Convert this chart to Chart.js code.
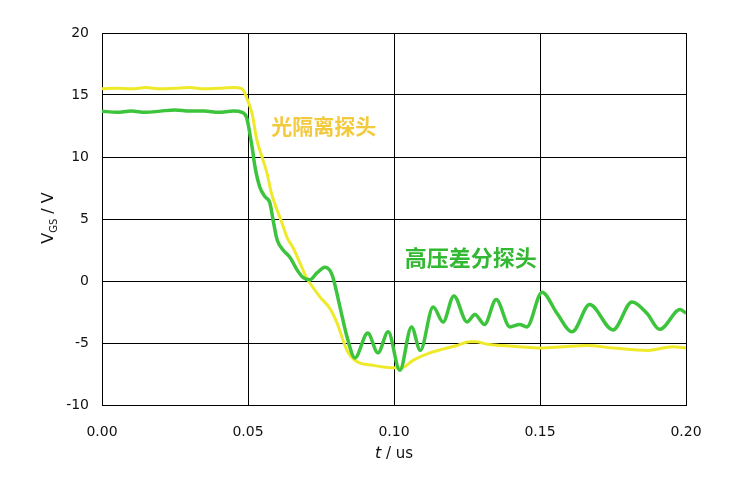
<!DOCTYPE html>
<html>
<head>
<meta charset="utf-8">
<script src="https://cdn.jsdelivr.net/npm/chart.js@4"></script>
<style>
    html, body { margin: 0; padding: 0; background: #fff; }
    #wrap { width: 734px; height: 499px; position: relative; }
</style>
</head>
<body>
<div id="wrap"><canvas id="chartVgs"></canvas></div>
<script>

// =====================================================
// Datos
// =====================================================

const tOptico = [
    0, 0.005, 0.01, 0.015, 0.02, 0.025, 0.03, 0.035, 0.04, 0.045, 0.048,
    0.0495, 0.0514, 0.053, 0.0548, 0.0565, 0.058, 0.060, 0.0616, 0.0634, 0.0654,
    0.0678, 0.070, 0.0712, 0.0747, 0.078, 0.0805, 0.0839, 0.0873, 0.0928,
    0.0997, 0.1027, 0.1065, 0.1123, 0.1216, 0.126, 0.128, 0.132,
    0.137, 0.143, 0.15, 0.158, 0.166, 0.175, 0.187, 0.1955, 0.2
];

const vOptico = [
    15.5, 15.55, 15.5, 15.6, 15.5, 15.55, 15.6, 15.5, 15.55, 15.6, 15.5,
    14.8, 13.5, 11.4, 10.0, 8.7, 7.1, 5.7, 4.7, 3.5, 2.7,
    1.45, 0.3, -0.16, -1.3, -2.2, -3.4, -5.6, -6.5, -6.8,
    -7.0, -7.0, -6.4, -5.8, -5.2, -4.9, -4.9, -5.1,
    -5.2, -5.3, -5.4, -5.3, -5.2, -5.4, -5.6, -5.3, -5.4
];

const tDiferencial = [
    0, 0.005, 0.01, 0.015, 0.02, 0.025, 0.03, 0.035, 0.04, 0.045, 0.048,
    0.0495, 0.050, 0.0514, 0.0524, 0.054, 0.0558, 0.0575, 0.0586, 0.060, 0.062,
    0.0644, 0.0668, 0.0688, 0.0712, 0.0736, 0.0764, 0.0788, 0.0815, 0.0839, 0.0866,
    0.091, 0.0945, 0.098, 0.102, 0.106, 0.109, 0.1134, 0.1168, 0.1205, 0.125,
    0.1277, 0.131, 0.135, 0.1397, 0.143, 0.1455, 0.1507, 0.1558, 0.161, 0.167,
    0.175, 0.1815, 0.1866, 0.191, 0.198, 0.2
];

const vDiferencial = [
    13.7, 13.6, 13.7, 13.6, 13.7, 13.8, 13.7, 13.7, 13.6, 13.7, 13.6,
    13.2, 12.7, 10.8, 9.2, 7.6, 6.8, 6.3, 4.9, 3.3, 2.5,
    1.9, 0.9, 0.3, 0.1, 0.65, 1.1, 0.5, -2.1, -4.5, -6.2,
    -4.2, -5.8, -4.1, -7.2, -3.7, -5.6, -2.1, -3.3, -1.2, -3.3,
    -2.7, -3.5, -1.5, -3.7, -3.5, -3.7, -0.9, -2.6, -4.1, -1.9,
    -3.95, -1.7, -2.6, -3.9, -2.3, -2.6
];

const xTicks = [0, 0.05, 0.10, 0.15, 0.20];
const yTicks = [-10, -5, 0, 5, 10, 15, 20];

const etiquetaOptico = "光隔离探头";
const etiquetaDiferencial = "高压差分探头";


// =====================================================
// Colores
// =====================================================

const colores = {
    amarillo: "#eeea2a",
    verde: "#3cc43c",
    textoAmarillo: "#f3ca3e",
    textoVerde: "#33b833",
    eje: "#000000",
    texto: "#111111"
};

const fuente = "'DejaVu Sans', Verdana, sans-serif";


// =====================================================
// Plugin: títulos de ejes y etiquetas de serie
// =====================================================

const rotulos = {
    id: "rotulos",
    afterDraw(chart) {
        const ctx = chart.ctx;
        const area = chart.chartArea;
        const xs = chart.scales.x;
        const ys = chart.scales.y;

        ctx.save();
        ctx.fillStyle = colores.texto;
        ctx.textBaseline = "middle";

        // eje x: "t / us"
        const cx = (area.left + area.right) / 2;
        ctx.font = "italic 16px " + fuente;
        const wT = ctx.measureText("t").width;
        ctx.font = "15px " + fuente;
        const wResto = ctx.measureText(" / us").width;
        let x0 = cx - (wT + wResto) / 2;
        ctx.textAlign = "left";
        ctx.font = "italic 16px " + fuente;
        ctx.fillText("t", x0, 454);
        ctx.font = "15px " + fuente;
        ctx.fillText(" / us", x0 + wT, 454);

        // eje y: "VGS / V"
        ctx.translate(49, 218);
        ctx.rotate(-Math.PI / 2);
        ctx.font = "16px " + fuente;
        const wV = ctx.measureText("V").width;
        ctx.font = "10px " + fuente;
        const wGS = ctx.measureText("GS").width;
        ctx.font = "16px " + fuente;
        const wBarra = ctx.measureText(" / V").width;
        let y0 = -(wV + wGS + wBarra) / 2;
        ctx.fillText("V", y0, 0);
        ctx.font = "10px " + fuente;
        ctx.fillText("GS", y0 + wV, 5);
        ctx.font = "16px " + fuente;
        ctx.fillText(" / V", y0 + wV + wGS, 0);
        ctx.restore();

        // etiquetas de serie
        ctx.save();
        ctx.textAlign = "left";
        ctx.textBaseline = "middle";
        ctx.font = "bold 21px 'Noto Sans CJK SC', sans-serif";
        ctx.fillStyle = colores.textoAmarillo;
        ctx.fillText(etiquetaOptico, xs.getPixelForValue(0.058), ys.getPixelForValue(12.5));
        ctx.font = "bold 22px 'Noto Sans CJK SC', sans-serif";
        ctx.fillStyle = colores.textoVerde;
        ctx.fillText(etiquetaDiferencial, xs.getPixelForValue(0.1037), ys.getPixelForValue(1.9));
        ctx.restore();
    }
};


// =====================================================
// Gráfico
// =====================================================

const aPuntos = (ts, vs) => ts.map((t, i) => ({ x: t, y: vs[i] }));

new Chart(document.getElementById("chartVgs"), {
    type: "line",
    data: {
        datasets: [
            {
                label: etiquetaDiferencial,
                data: aPuntos(tDiferencial, vDiferencial),
                borderColor: colores.verde,
                borderWidth: 3.5,
                pointRadius: 0,
                fill: false,
                cubicInterpolationMode: "monotone"
            },
            {
                label: etiquetaOptico,
                data: aPuntos(tOptico, vOptico),
                borderColor: colores.amarillo,
                borderWidth: 3,
                pointRadius: 0,
                fill: false,
                cubicInterpolationMode: "monotone"
            }
        ]
    },
    options: {
        responsive: true,
        maintainAspectRatio: false,
        animation: false,
        layout: {
            padding: { left: 0, top: 33, right: 48, bottom: 0 }
        },
        plugins: {
            legend: { display: false },
            tooltip: { enabled: false }
        },
        scales: {
            x: {
                type: "linear",
                min: 0,
                max: 0.2,
                afterBuildTicks: s => { s.ticks = xTicks.map(v => ({ value: v })); },
                afterFit: s => { s.height = 94; },
                border: { color: colores.eje, width: 1 },
                grid: { color: colores.eje, lineWidth: 1, drawTicks: false },
                ticks: {
                    padding: 19,
                    color: colores.texto,
                    font: { family: fuente, size: 14 },
                    callback: v => v.toFixed(2)
                }
            },
            y: {
                min: -10,
                max: 20,
                afterBuildTicks: s => { s.ticks = yTicks.map(v => ({ value: v })); },
                afterFit: s => { s.width = 102; },
                border: { color: colores.eje, width: 1 },
                grid: { color: colores.eje, lineWidth: 1, drawTicks: false },
                ticks: {
                    padding: 13,
                    color: colores.texto,
                    font: { family: fuente, size: 14 }
                }
            }
        }
    },
    plugins: [rotulos]
});

</script>
</body>
</html>
